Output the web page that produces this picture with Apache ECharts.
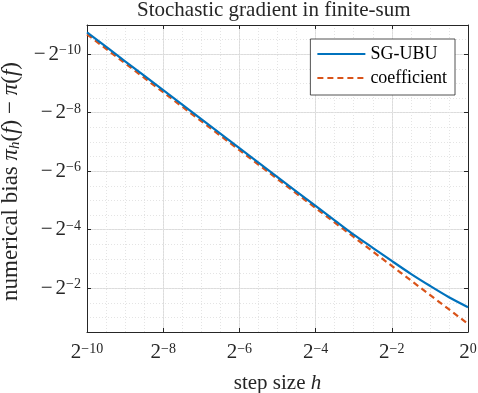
<!DOCTYPE html>
<html>
<head>
<meta charset="utf-8">
<script src="https://cdn.jsdelivr.net/npm/echarts@6/dist/echarts.min.js"></script>
<style>
html,body{margin:0;padding:0;background:#fff;}
#chart{width:478px;height:393px;}
</style>
</head>
<body>
<div id="chart"></div>
<script>
// x = log2(h), y = log2(|bias|)  (bias is negative)
var xBlue = [-10, -9, -8, -7, -6, -5, -4, -3.5, -3, -2.5, -2, -1.5, -1, -0.5, 0];
var yBlue = [-10.75, -9.76, -8.77, -7.78, -6.79, -5.80, -4.81, -4.32, -3.83, -3.38, -2.93, -2.49, -2.08, -1.69, -1.35];
var xCoef = [-10, -9, -8, -7, -6, -5, -4, -3, -2, -1, 0];
var yCoef = [-10.68, -9.69, -8.70, -7.71, -6.72, -5.73, -4.74, -3.75, -2.76, -1.77, -0.78];
var xTicks = [-10, -8, -6, -4, -2, 0];
var yTicks = [-10, -8, -6, -4, -2];
var seriesNames = ['SG-UBU', 'coefficient'];

var FONT = 'Liberation Serif';
var INK = '#262626';

function pairs(xs, ys){
    var out = [];
    for(var i=0;i<xs.length;i++){ out.push([xs[i], ys[i]]); }
    return out;
}
function minus(v){ return String(v).replace('-', '\u2212'); }

var supRich = {
    m: {fontFamily: FONT, fontSize: 21, lineHeight: 21, color: INK, padding: [0, 3, 0, 0]},
    b: {fontFamily: FONT, fontSize: 21, lineHeight: 21, color: INK},
    s: {fontFamily: FONT, fontSize: 14, lineHeight: 15, verticalAlign: 'top', color: INK}
};

var myChart = echarts.init(document.getElementById('chart'));
var option = {
    animation: false,
    backgroundColor: '#fff',
    grid: {left: 87, right: 10, top: 25, bottom: 61, containLabel: false, outerBoundsMode: 'none'},
    title: {
        text: 'Stochastic gradient in finite-sum',
        left: 137, top: 0, padding: 0,
        textStyle: {fontFamily: FONT, fontSize: 21, fontWeight: 'normal', color: INK}
    },
    legend: {
        right: 23, top: 39,
        orient: 'vertical',
        itemWidth: 48, itemHeight: 14, itemGap: 6,
        padding: [6, 8, 8, 6],
        borderColor: INK, borderWidth: 0.8, backgroundColor: '#fff',
        itemStyle: {opacity: 0},
        textStyle: {fontFamily: FONT, fontSize: 18, color: '#000'},
        data: seriesNames
    },
    xAxis: [{
        type: 'value', min: -10, max: 0, position: 'bottom',
        axisLine: {show: true, onZero: false, lineStyle: {color: INK, width: 1}},
        axisTick: {show: true, inside: true, length: 4, customValues: xTicks, lineStyle: {color: INK}},
        axisLabel: {customValues: xTicks, margin: 10, rich: supRich,
            formatter: function(v){ return '{b|2}{s|' + minus(v) + '}'; }},
        splitLine: {show: true, lineStyle: {color: '#dcdcdc', width: 1}},
        name: '{t|step size }{i|h}', nameLocation: 'middle', nameGap: 41,
        nameTextStyle: {rich: {
            t: {fontFamily: FONT, fontSize: 21, color: INK},
            i: {fontFamily: FONT, fontSize: 21, fontStyle: 'italic', color: INK}
        }}
    }, {
        type: 'value', min: -10, max: 0, position: 'top',
        axisLine: {show: true, onZero: false, lineStyle: {color: INK, width: 1}},
        axisTick: {show: true, inside: true, length: 4, customValues: xTicks, lineStyle: {color: INK}},
        axisLabel: {show: false}, splitLine: {show: false}
    }, {
        type: 'value', min: -10, max: 0, interval: 0.5, position: 'bottom',
        axisLine: {show: false}, axisTick: {show: false}, axisLabel: {show: false},
        splitLine: {show: true, lineStyle: {color: '#e4e4e4', width: 1, type: [1, 2]}}
    }],
    yAxis: [{
        type: 'value', min: -11, max: -0.5, inverse: true, position: 'left',
        axisLine: {show: true, onZero: false, lineStyle: {color: INK, width: 1}},
        axisTick: {show: true, inside: true, length: 4, customValues: yTicks, lineStyle: {color: INK}},
        axisLabel: {customValues: yTicks, margin: 6, rich: supRich,
            formatter: function(v){ return '{m|\u2212}{b|2}{s|' + minus(v) + '}'; }},
        splitLine: {show: true, lineStyle: {color: '#dcdcdc', width: 1}},
        name: '{t|numerical bias }{i|\u03c0}{u|h}{t|(}{i|f}{t|) \u2212 }{i|\u03c0}{t|(}{i|f}{t|)}',
        nameLocation: 'middle', nameGap: 61, nameRotate: 90,
        nameTextStyle: {padding: [0, 6, 0, 0], rich: {
            t: {fontFamily: FONT, fontSize: 23, lineHeight: 24, color: INK},
            i: {fontFamily: FONT, fontSize: 23, lineHeight: 24, fontStyle: 'italic', color: INK},
            u: {fontFamily: FONT, fontSize: 15, lineHeight: 15, fontStyle: 'italic', verticalAlign: 'bottom', color: INK}
        }}
    }, {
        type: 'value', min: -11, max: -0.5, inverse: true, position: 'right',
        axisLine: {show: true, onZero: false, lineStyle: {color: INK, width: 1}},
        axisTick: {show: true, inside: true, length: 4, customValues: yTicks, lineStyle: {color: INK}},
        axisLabel: {show: false}, splitLine: {show: false}
    }, {
        type: 'value', min: -11, max: -0.5, interval: 0.5, inverse: true, position: 'left',
        axisLine: {show: false}, axisTick: {show: false}, axisLabel: {show: false},
        splitLine: {show: true, lineStyle: {color: '#e4e4e4', width: 1, type: [1, 2]}}
    }],
    series: [{
        name: seriesNames[0], type: 'line', xAxisIndex: 0, yAxisIndex: 0,
        symbol: 'none', smooth: 0.3, z: 3,
        lineStyle: {color: '#0072BD', width: 2.2},
        itemStyle: {color: '#0072BD'},
        data: pairs(xBlue, yBlue)
    }, {
        name: seriesNames[1], type: 'line', xAxisIndex: 0, yAxisIndex: 0,
        symbol: 'none', z: 2,
        lineStyle: {color: '#D95319', width: 2.2, type: [6, 4]},
        itemStyle: {color: '#D95319'},
        data: pairs(xCoef, yCoef)
    }]
};
myChart.setOption(option);
</script>
</body>
</html>
